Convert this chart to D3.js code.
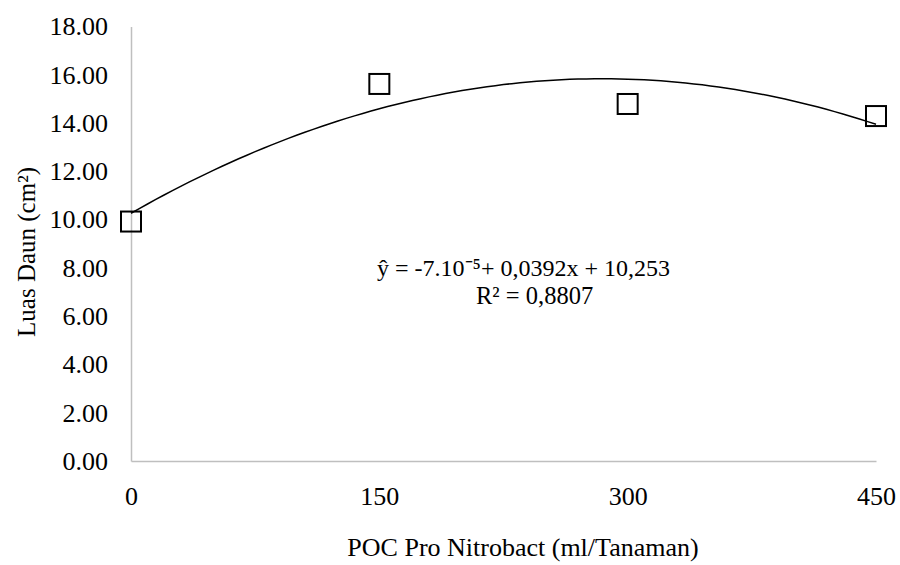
<!DOCTYPE html>
<html>
<head>
<meta charset="utf-8">
<script src="https://cdn.jsdelivr.net/npm/d3@7"></script>
<style>
  body { margin: 0; background: #fff; }
  text { font-family: "Liberation Serif", "Times New Roman", serif; fill: #000; }
</style>
</head>
<body>
<script>
// data
const doses = [0, 150, 300, 450];
const leafArea = [9.92, 15.62, 14.79, 14.29];
const xTicks = [0, 150, 300, 450];
const yTicks = [0, 2, 4, 6, 8, 10, 12, 14, 16, 18];

const width = 900, height = 565;
const margin = {top: 26.5, right: 24, bottom: 104, left: 131};

const svg = d3.select("body").append("svg")
  .attr("width", width)
  .attr("height", height);

const x = d3.scaleLinear().domain([0, 450]).range([margin.left, width - margin.right]);
const y = d3.scaleLinear().domain([0, 18]).range([height - margin.bottom, margin.top]);

// axes: grey lines, no tick marks
const xAxis = svg.append("g")
  .attr("transform", `translate(0,${y(0)})`)
  .call(d3.axisBottom(x).tickValues(xTicks).tickSize(0).tickPadding(26).tickFormat(d3.format("d")));
xAxis.attr("font-size", 26).attr("font-family", "Liberation Serif");
xAxis.select(".domain").attr("stroke", "#bfbfbf").attr("stroke-width", 1.5);

const yAxis = svg.append("g")
  .attr("transform", `translate(${x(0)},0)`)
  .call(d3.axisLeft(y).tickValues(yTicks).tickSize(0).tickPadding(23).tickFormat(d3.format(".2f")));
yAxis.attr("font-size", 26).attr("font-family", "Liberation Serif");
yAxis.select(".domain").attr("stroke", "#bfbfbf").attr("stroke-width", 1.5);

// polynomial (order 2) trendline fitted to the points
function fitQuadratic(xs, ys) {
  let s = [0, 0, 0, 0, 0], t = [0, 0, 0];
  xs.forEach((xv, i) => {
    for (let k = 0; k < 5; k++) s[k] += Math.pow(xv, k);
    for (let k = 0; k < 3; k++) t[k] += Math.pow(xv, k) * ys[i];
  });
  const A = [[s[0], s[1], s[2], t[0]], [s[1], s[2], s[3], t[1]], [s[2], s[3], s[4], t[2]]];
  for (let i = 0; i < 3; i++) {
    for (let j = i + 1; j < 3; j++) {
      const f = A[j][i] / A[i][i];
      for (let k = i; k < 4; k++) A[j][k] -= f * A[i][k];
    }
  }
  const c = [0, 0, 0];
  for (let i = 2; i >= 0; i--) {
    let v = A[i][3];
    for (let k = i + 1; k < 3; k++) v -= A[i][k] * c[k];
    c[i] = v / A[i][i];
  }
  return c;
}
const coef = fitQuadratic(doses, leafArea);
const curve = d3.range(0, 450.01, 5).map(d => [d, coef[0] + coef[1] * d + coef[2] * d * d]);

svg.append("path")
  .datum(curve)
  .attr("fill", "none")
  .attr("stroke", "#000")
  .attr("stroke-width", 1.5)
  .attr("d", d3.line().x(d => x(d[0])).y(d => y(d[1])));

// square markers
const sq = 20;
svg.selectAll("rect.pt")
  .data(doses)
  .join("rect")
  .attr("class", "pt")
  .attr("x", (d) => x(d) - sq / 2)
  .attr("y", (d, i) => y(leafArea[i]) - sq / 2)
  .attr("width", sq)
  .attr("height", sq)
  .attr("fill", "none")
  .attr("stroke", "#000")
  .attr("stroke-width", 2);

// equation label
svg.append("text").attr("x", 377).attr("y", 276).attr("font-size", 24)
  .text("ŷ = -7.10⁻⁵+ 0,0392x + 10,253");
svg.append("text").attr("x", 476).attr("y", 304).attr("font-size", 24.5)
  .text("R² = 0,8807");

// axis titles
svg.append("text")
  .attr("x", 523).attr("y", 556)
  .attr("text-anchor", "middle")
  .attr("font-size", 26)
  .text("POC Pro Nitrobact (ml/Tanaman)");

svg.append("text")
  .attr("transform", "translate(35,252) rotate(-90)")
  .attr("text-anchor", "middle")
  .attr("font-size", 25)
  .text("Luas Daun (cm²)");
</script>
</body>
</html>
